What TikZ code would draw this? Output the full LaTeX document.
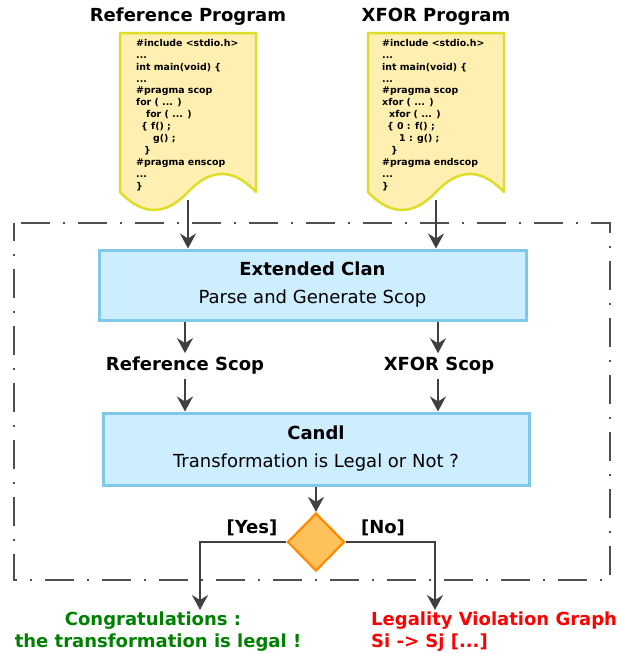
\documentclass[tikz,border=0pt]{standalone}
\usepackage{fontspec}
\setmainfont{DejaVu Sans}
\usetikzlibrary{arrows.meta,shapes.geometric}
\definecolor{docfill}{HTML}{FFEFB0}
\definecolor{docdraw}{HTML}{DDDD2A}
\definecolor{boxfill}{HTML}{CCEEFF}
\definecolor{boxdraw}{HTML}{7EC8E8}
\definecolor{dfill}{HTML}{FFC15A}
\definecolor{ddraw}{HTML}{FF8A00}
\definecolor{arrcol}{HTML}{404040}
\definecolor{framecol}{HTML}{505050}
\definecolor{okgreen}{HTML}{008000}
\definecolor{badred}{HTML}{FF0000}
\tikzset{
  docshape/.style={fill=docfill,draw=docdraw,line width=2.5pt,line join=round},
  codetext/.style={anchor=north west,inner sep=0pt,align=left,font=\fontsize{9.4}{11.9}\selectfont\bfseries},
  titletext/.style={inner sep=0pt,font=\fontsize{18}{22}\selectfont\bfseries},
  mainbox/.style={draw=boxdraw,fill=boxfill,line width=3pt,align=center,font=\fontsize{18}{28}\selectfont,minimum width=426pt},
  scoplabel/.style={inner xsep=0pt,inner ysep=4pt,font=\fontsize{18}{22}\selectfont\bfseries},
  arr/.style={draw=arrcol,line width=2.2pt,-{Stealth[length=15pt,width=16pt,inset=5pt]}},
  framebox/.style={draw=framecol,line width=2.2pt,dash pattern=on 29pt off 13pt on 2pt off 13pt,dash phase=11pt},
  decision/.style={diamond,draw=ddraw,fill=dfill,line width=2.2pt,inner sep=0pt,minimum width=57pt,minimum height=58pt},
  branchlabel/.style={inner sep=0pt,font=\fontsize{18}{22}\selectfont\bfseries},
  resulttext/.style={inner sep=0pt,font=\fontsize{18}{22}\selectfont\bfseries}
}
\begin{document}
\begin{tikzpicture}[x=1pt,y=-1pt]
\useasboundingbox (0,0) rectangle (620,654);
% frame
\draw[framebox] (14,223) rectangle (610,580);
% titles
\node[titletext] (reftitle) at (188,17) {Reference Program};
\node[titletext] (xfortitle) at (436,17) {XFOR Program};
% documents
\draw[docshape] (120,33) -- (256,33) -- (256,192)
  .. controls (233.3,168) and (210.7,168) .. (188,192)
  .. controls (165.3,216) and (142.7,216) .. (120,192) -- cycle;
\draw[docshape] (368,33) -- (504,33) -- (504,192)
  .. controls (481.3,168) and (458.7,168) .. (436,192)
  .. controls (413.3,216) and (390.7,216) .. (368,192) -- cycle;
\node[codetext] (refcode) at (136,39) {\#include <stdio.h>\\
...\\
int main(void) \{\\
...\\
\#pragma scop\\
for ( ... )\\
\hspace*{10pt}for ( ... )\\
\hspace*{5pt}\{ f() ;\\
\hspace*{17pt}g() ;\\
\hspace*{8pt}\}\\
\#pragma enscop\\
...\\
\}};
\node[codetext] (xforcode) at (382,39) {\#include <stdio.h>\\
...\\
int main(void) \{\\
...\\
\#pragma scop\\
xfor ( ... )\\
\hspace*{7pt}xfor ( ... )\\
\hspace*{5pt}\{ 0 : f() ;\\
\hspace*{17pt}1 : g() ;\\
\hspace*{9pt}\}\\
\#pragma endscop\\
...\\
\}};
\coordinate (refbot) at (188,200);
\coordinate (xforbot) at (436,200);
% boxes
\node[mainbox,minimum width=427pt,minimum height=70pt] (clan) at (312.5,285) {\textbf{Extended Clan}\\Parse and Generate Scop};
\node[mainbox,minimum width=426pt,minimum height=72pt] (candl) at (316,449) {\textbf{Candl}\\Transformation is Legal or Not ?};
% scop labels
\node[scoplabel] (refscop) at (185,366) {Reference Scop};
\node[scoplabel] (xforscop) at (439,366) {XFOR Scop};
% decision
\node[decision] (dec) at (316,542) {};
\node[branchlabel] (yes) at (252,528) {[Yes]};
\node[branchlabel] (no) at (383,528) {[No]};
% results
\node[resulttext,text=okgreen,align=center] (legal) at (158,632) {Congratulations :\hspace*{10pt}\\the transformation is legal !};
\node[resulttext,text=badred,align=left,anchor=west] (viol) at (371,632) {Legality Violation Graph\\Si -> Sj [...]};
\coordinate (yesend) at (200,610);
\coordinate (noend) at (435,610);
% connectors
\draw[arr] (refbot) -- (clan.north -| refbot);
\draw[arr] (xforbot) -- (clan.north -| xforbot);
\draw[arr] (clan.south -| refscop) -- (refscop.north);
\draw[arr] (clan.south -| 438,0) -- (xforscop.north -| 438,0);
\draw[arr] (refscop.south) -- (candl.north -| refscop);
\draw[arr] (xforscop.south -| 438,0) -- (candl.north -| 438,0);
\draw[arr] (candl.south -| dec) -- (dec.north);
\draw[arr] (dec.west) -| (yesend);
\draw[arr] (dec.east) -| (noend);
\end{tikzpicture}
\end{document}
